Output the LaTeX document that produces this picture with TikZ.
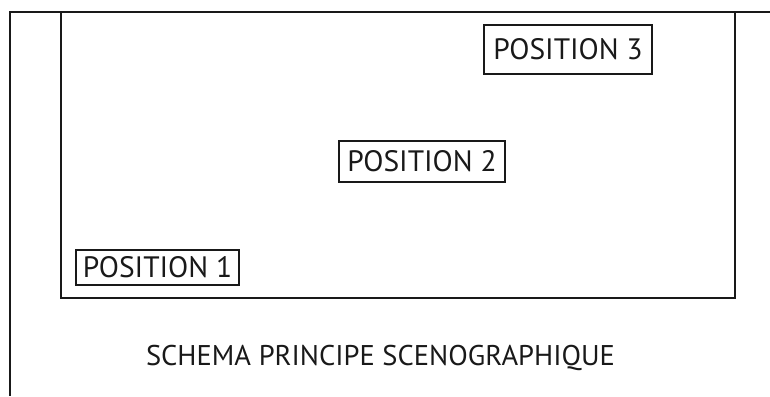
\documentclass[tikz,border=0pt]{standalone}
\usepackage{fontspec}
\setmainfont{PT Sans}
\begin{document}
\begin{tikzpicture}[x=1pt,y=-1pt,
  wall/.style={line width=2pt,draw=black!90},
  posbox/.style={draw=black!90,line width=1.6pt,inner sep=0pt,font=\fontsize{29.5}{35}\selectfont,text=black!90},
  caption/.style={font=\fontsize{28.5}{34}\selectfont,text=black!90,inner sep=0pt}]
\useasboundingbox (0,0) rectangle (770,396);
\coordinate (tl) at (10,12);
\coordinate (tr) at (770,12);
\coordinate (bl) at (10,396);
\draw[wall] (tr) -- (tl) -- (bl);
\node[wall,draw,minimum width=674pt,minimum height=286pt,inner sep=0pt] (stage) at (398,155) {};
\node[posbox,minimum width=163pt,minimum height=35pt] (p1) at (157.5,267.5) {POSITION 1};
\node[posbox,minimum width=166pt,minimum height=41pt] (p2) at (422,161.5) {POSITION 2};
\node[posbox,minimum width=168pt,minimum height=49pt] (p3) at (568,49.5) {POSITION 3};
\node[caption,anchor=base] (title) at (380.5,365) {SCHEMA PRINCIPE SCENOGRAPHIQUE};
\end{tikzpicture}
\end{document}
